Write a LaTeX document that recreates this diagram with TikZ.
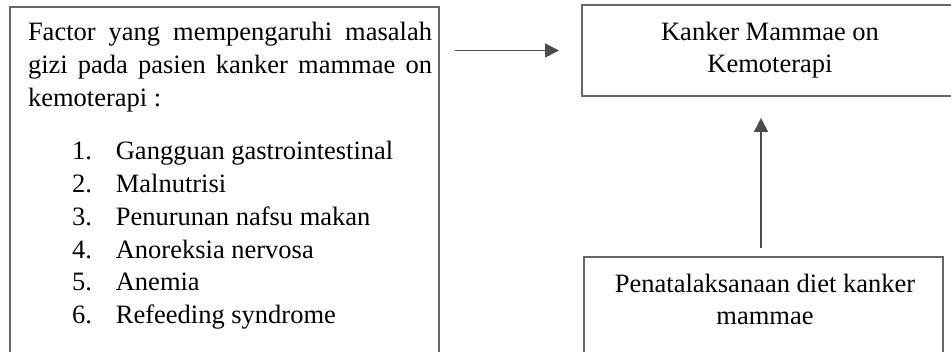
\documentclass[tikz,border=0pt]{standalone}
\usepackage{fontspec}
\setmainfont{Liberation Serif}
\usetikzlibrary{arrows.meta,calc}
\tikzset{
  boxline/.style={draw=black!60, line width=1.8pt, inner sep=0pt, outer sep=0pt, rectangle},
  txt/.style={inner sep=0pt, outer sep=0pt, text=black, font=\fontsize{26.5}{32.7}\selectfont},
  conn/.style={draw=black!70, line width=1.7pt, -{Triangle[length=14pt,width=14pt]}}
}
\begin{document}
\begin{tikzpicture}[x=1pt,y=-1pt]
\useasboundingbox (0,0) rectangle (951,352);
\fill[white] (0,0) rectangle (951,352);
\clip (0,0) rectangle (951,352);
% boxes
\node[boxline, anchor=north west, minimum width=429pt, minimum height=420pt] (lbox) at (10,7) {};
\node[boxline, anchor=north west, minimum width=400pt, minimum height=91pt] (ktop) at (582,5) {};
\node[boxline, anchor=north west, minimum width=359pt, minimum height=150pt] (diet) at (584,257) {};
% texts
\node[txt, anchor=base west, text width=404pt, align=justify] (lhead) at (28,41)
  {Factor yang mempengaruhi masalah\linebreak gizi pada pasien kanker mammae on\linebreak kemoterapi :};
\node[txt, anchor=base west, align=left] (llist) at (72,160)
  {\begin{tabular}[t]{@{}l@{\hspace{24pt}}l@{}}
   1. & Gangguan gastrointestinal\\
   2. & Malnutrisi\\
   3. & Penurunan nafsu makan\\
   4. & Anoreksia nervosa\\
   5. & Anemia\\
   6. & Refeeding syndrome
   \end{tabular}};
\node[txt, anchor=base, align=center] (ktoptxt) at (770,73)
  {Kanker Mammae on\\Kemoterapi};
\node[txt, anchor=base, align=center] (diettxt) at (765,325)
  {Penatalaksanaan diet kanker\\mammae};
% connectors
\coordinate (dtop) at ([xshift=-2.5pt,yshift=9pt]diet.north);
\draw[conn] ([xshift=16pt]lbox.east |- ktop.west) -- ([xshift=-23pt]ktop.west);
\draw[conn] (dtop) -- ($(dtop |- ktop.south)+(0,22)$);
\end{tikzpicture}
\end{document}
